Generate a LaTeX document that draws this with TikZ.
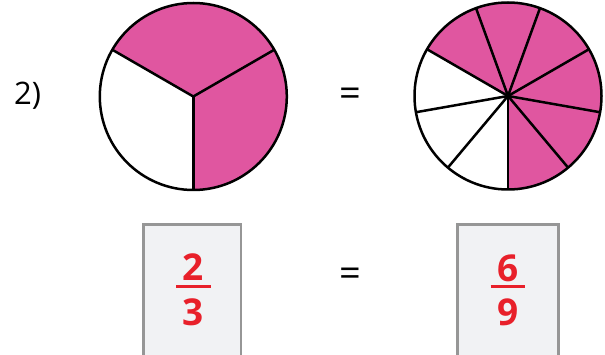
\documentclass[tikz,border=0pt]{standalone}
\usepackage{fontspec}
\setmainfont{Open Sans}
\usetikzlibrary{calc}
\definecolor{pie}{RGB}{224,86,160}
\definecolor{fraccol}{RGB}{232,32,42}
\definecolor{boxfill}{RGB}{241,242,244}
\definecolor{boxline}{RGB}{150,150,150}

\begin{document}
\begin{tikzpicture}[x=1pt,y=1pt,
    rim/.style={line width=2.5pt,line join=round},
    digit/.style={text=fraccol,font=\fontsize{37}{37}\selectfont\bfseries,inner sep=0pt},
    eqsign/.style={font=\fontsize{38}{38}\selectfont,inner sep=0pt},
    fracbox/.style={draw=boxline,fill=boxfill,line width=2.7pt}]
    \clip (0,0) rectangle (605,354);

    % Define the radius of both circles
    \def\r{93.5}

    % Left circle: three parts, two of them filled
    \coordinate (c1) at (193.3,257.5);
    \fill[pie] (c1) -- ($(c1)+(-90:\r)$) arc (-90:150:\r) -- cycle;
    \foreach \a in {30,150,270}
        \draw[rim] (c1) -- ($(c1)+(\a:\r)$);
    \draw[rim] (c1) circle (\r);

    % Right circle: nine parts, six of them filled
    \coordinate (c2) at (508,258);
    \fill[pie] (c2) -- ($(c2)+(-90:\r)$) arc (-90:150:\r) -- cycle;
    \foreach \a in {270,310,...,590}
        \draw[rim] (c2) -- ($(c2)+(\a:\r)$);
    \draw[rim] (c2) circle (\r);

    % Number of the exercise and the equal signs
    \node[font=\fontsize{31}{31}\selectfont, inner sep=0pt, anchor=base west] (num) at (14,249.7) {2)};
    \node[eqsign] (eq1) at (350.5,256.3) {=};
    \node[eqsign] (eq2) at (350.5,77.2) {=};

    % Boxes with the fractions
    \draw[fracbox] (143.3,-5) rectangle (241,129.5);
    \draw[fracbox] (457.3,-5) rectangle (558.3,129.7);

    \node[digit] (n1) at (193.3,87.3) {2};
    \node[digit] (d1) at (193.3,42) {3};
    \draw[fraccol, line width=3pt] (176,68) -- (210.7,68);

    \node[digit] (n2) at (507.8,85.7) {6};
    \node[digit] (d2) at (507.8,41.5) {9};
    \draw[fraccol, line width=3pt] (490.7,68) -- (525,68);
\end{tikzpicture}
\end{document}
